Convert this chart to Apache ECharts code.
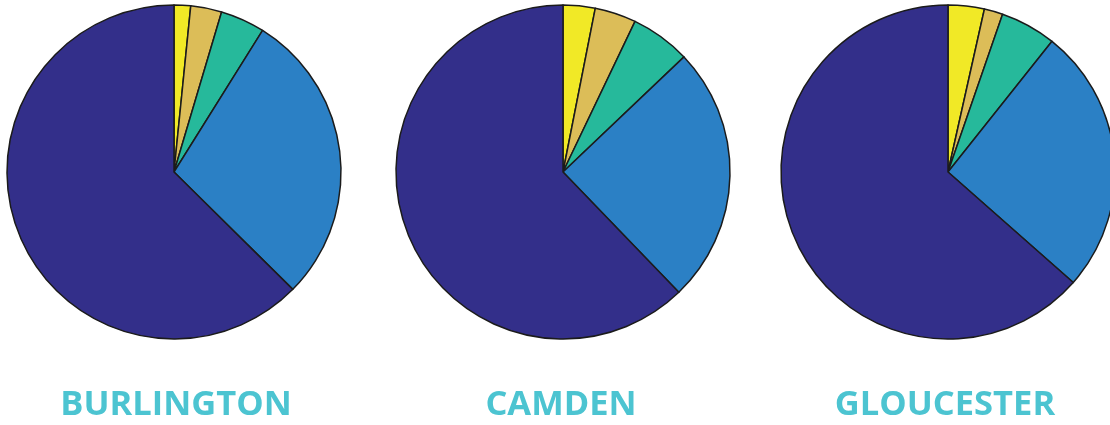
<!DOCTYPE html>
<html>
<head>
<meta charset="utf-8">
<script src="https://cdn.jsdelivr.net/npm/echarts@6/dist/echarts.min.js"></script>
<style>
  html, body { margin: 0; padding: 0; background: #fff; }
  #chart { width: 1110px; height: 425px; }
</style>
</head>
<body>
<div id="chart"></div>
<script>
// share of each group per county (percent)
var groups = ["Group 1", "Group 2", "Group 3", "Group 4", "Group 5"];
var counties = ["BURLINGTON", "CAMDEN", "GLOUCESTER"];
var burlington = [1.6, 3.0, 4.3, 28.5, 62.6];
var camden = [3.1, 4.0, 5.8, 24.9, 62.2];
var gloucester = [3.5, 1.8, 5.4, 25.8, 63.5];

var colors = ["#f1e926", "#dcbd58", "#26b99b", "#2b80c5", "#332f8a"];
var values = [burlington, camden, gloucester];
var centers = [[174, 172], [563, 172], [948, 172]];
var labelX = [176, 561, 945];

var chart = echarts.init(document.getElementById("chart"));

var option = {
  animation: false,
  color: colors,
  title: counties.map(function (name, i) {
    return {
      text: name,
      left: labelX[i],
      top: 388,
      padding: 0,
      textAlign: "center",
      textStyle: {
        color: "#4cc4d1",
        fontFamily: "Open Sans",
        fontWeight: "bold",
        fontSize: 34.5,
      },
    };
  }),
  series: values.map(function (vals, i) {
    return {
      type: "pie",
      center: centers[i],
      radius: 167,
      startAngle: 90,
      clockwise: true,
      label: { show: false },
      labelLine: { show: false },
      emphasis: { disabled: true },
      itemStyle: {
        borderColor: "#1b1b1b",
        borderWidth: 1.5,
      },
      data: vals.map(function (v, j) {
        return { name: groups[j], value: v };
      }),
    };
  }),
};

chart.setOption(option);
</script>
</body>
</html>
